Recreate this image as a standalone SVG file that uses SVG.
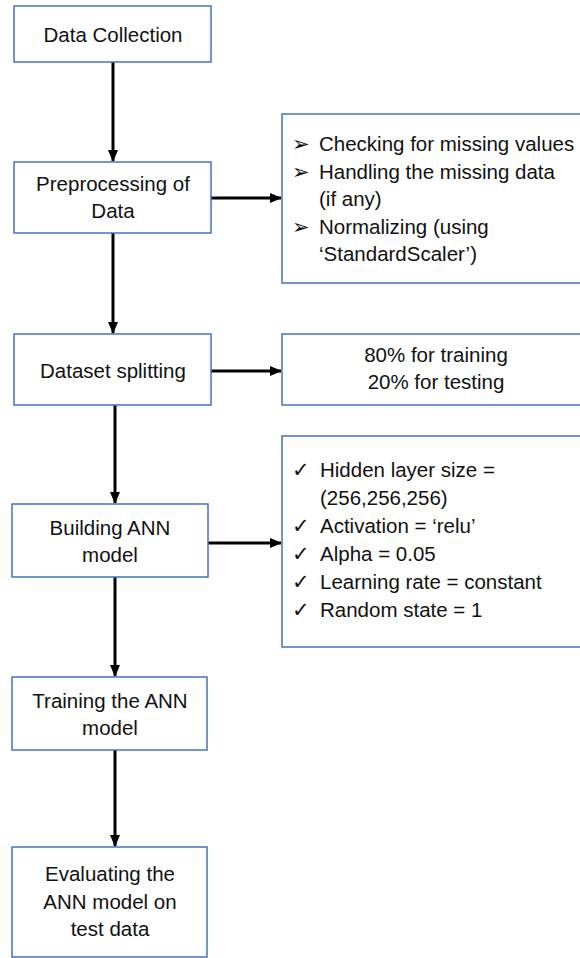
<svg xmlns="http://www.w3.org/2000/svg" width="580" height="958" viewBox="0 0 580 958">
<style>
.box{fill:#ffffff;stroke:#4472C4;stroke-width:1.5}
.t{font-family:"Liberation Sans",Arial,sans-serif;font-size:20.5px;fill:#111111}
.c{text-anchor:middle}
.b{font-family:"DejaVu Sans",sans-serif;font-size:21px;fill:#111111}
.edge{stroke:#000;stroke-width:3;fill:none}
</style>
<defs>
<marker id="ah" markerUnits="userSpaceOnUse" markerWidth="12" markerHeight="12" viewBox="0 0 12 12" refX="11" refY="6" orient="auto">
<path d="M0,1 L12,6 L0,11 Z" fill="#000"/>
</marker>
</defs>
<rect width="580" height="958" fill="#ffffff"/>
<g id="connectors">
<line class="edge" x1="113" y1="62" x2="113" y2="161" marker-end="url(#ah)"/>
<line class="edge" x1="113" y1="233" x2="113" y2="333" marker-end="url(#ah)"/>
<line class="edge" x1="115" y1="405" x2="115" y2="503" marker-end="url(#ah)"/>
<line class="edge" x1="115" y1="577" x2="115" y2="676" marker-end="url(#ah)"/>
<line class="edge" x1="115" y1="750" x2="115" y2="846" marker-end="url(#ah)"/>
<line class="edge" x1="211" y1="198" x2="281" y2="198" marker-end="url(#ah)"/>
<line class="edge" x1="211" y1="371" x2="281" y2="371" marker-end="url(#ah)"/>
<line class="edge" x1="208" y1="543" x2="281" y2="543" marker-end="url(#ah)"/>
</g>
<g id="data-collection">
<rect class="box" x="14" y="6" width="197" height="56"/>
<text class="t c" x="113" y="42">Data Collection</text>
</g>
<g id="preprocessing">
<rect class="box" x="14" y="162" width="197" height="71"/>
<text class="t c" x="113" y="191">Preprocessing of</text>
<text class="t c" x="113" y="218">Data</text>
</g>
<g id="preprocessing-details">
<rect class="box" x="282" y="114" width="310" height="169"/>
<text class="b" x="292" y="151">➢</text>
<text class="t" x="319" y="151">Checking for missing values</text>
<text class="b" x="292" y="178.5">➢</text>
<text class="t" x="319" y="178.5">Handling the missing data</text>
<text class="t" x="319" y="206">(if any)</text>
<text class="b" x="292" y="233.5">➢</text>
<text class="t" x="319" y="233.5">Normalizing (using</text>
<text class="t" x="319" y="261">‘StandardScaler’)</text>
</g>
<g id="dataset-splitting">
<rect class="box" x="14" y="334" width="197" height="71"/>
<text class="t c" x="113" y="378">Dataset splitting</text>
</g>
<g id="split-details">
<rect class="box" x="282" y="334" width="310" height="71"/>
<text class="t c" x="436" y="362">80% for training</text>
<text class="t c" x="436" y="389">20% for testing</text>
</g>
<g id="building-ann">
<rect class="box" x="12" y="504" width="196" height="73"/>
<text class="t c" x="110" y="535">Building ANN</text>
<text class="t c" x="110" y="562">model</text>
</g>
<g id="ann-details">
<rect class="box" x="282" y="436" width="310" height="211"/>
<text class="b" x="292" y="477">✓</text>
<text class="t" x="320" y="477">Hidden layer size =</text>
<text class="t" x="320" y="505">(256,256,256)</text>
<text class="b" x="292" y="533">✓</text>
<text class="t" x="320" y="533">Activation = ‘relu’</text>
<text class="b" x="292" y="561">✓</text>
<text class="t" x="320" y="561">Alpha = 0.05</text>
<text class="b" x="292" y="589">✓</text>
<text class="t" x="320" y="589">Learning rate = constant</text>
<text class="b" x="292" y="617">✓</text>
<text class="t" x="320" y="617">Random state = 1</text>
</g>
<g id="training">
<rect class="box" x="12" y="677" width="195" height="73"/>
<text class="t c" x="110" y="708">Training the ANN</text>
<text class="t c" x="110" y="735">model</text>
</g>
<g id="evaluating">
<rect class="box" x="12" y="847" width="195" height="110"/>
<text class="t c" x="110" y="881">Evaluating the</text>
<text class="t c" x="110" y="908.5">ANN model on</text>
<text class="t c" x="110" y="936">test data</text>
</g>
</svg>
